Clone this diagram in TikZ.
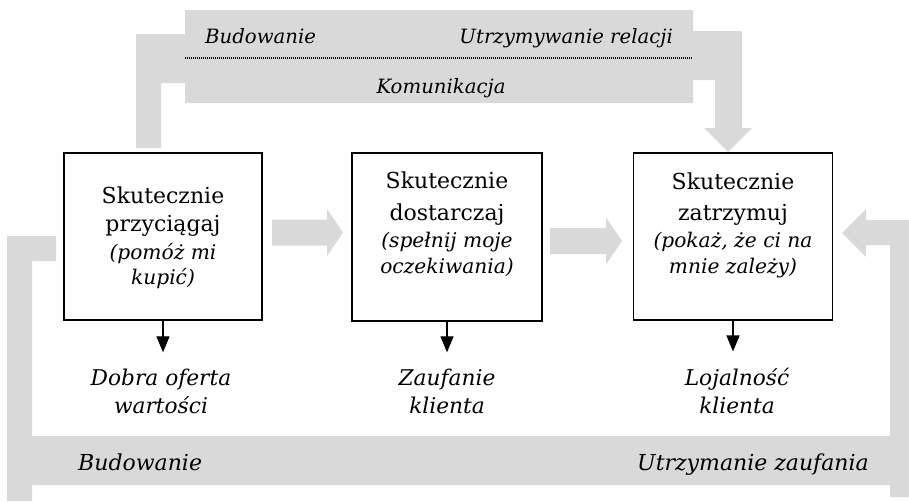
\documentclass[tikz,border=0pt]{standalone}
\usepackage{fontspec}
\setmainfont{DejaVu Serif}
\usetikzlibrary{arrows.meta}
\definecolor{bandgray}{HTML}{D9D9D9}
\tikzset{
  band/.style={fill=bandgray, draw=none},
  stagebox/.style={draw=black, line width=1.4pt, inner sep=0pt},
  boxreg/.style={inner sep=0pt, anchor=base, font=\fontsize{22}{26}\selectfont},
  boxit/.style={inner sep=0pt, anchor=base, font=\fontsize{20.2}{24}\selectfont\itshape},
  outit/.style={inner sep=0pt, anchor=base, font=\fontsize{21.7}{26}\selectfont\itshape},
  toplbl/.style={inner sep=0pt, font=\fontsize{19.7}{24}\selectfont\itshape},
  botlbl/.style={inner sep=0pt, font=\fontsize{22}{26}\selectfont\itshape},
  outarrow/.style={line width=1.3pt, -{Triangle[width=13pt,length=16pt]}, shorten >=16pt},
}
\newcommand{\grayarrowright}[4]{%
  \fill[band] (#1,#4-13) -- (#2,#4-13) -- (#2,#4-23.5) -- (#3,#4) -- (#2,#4+23.5) -- (#2,#4+13) -- (#1,#4+13) -- cycle;}
\begin{document}
\begin{tikzpicture}[x=1pt,y=-1pt]
\useasboundingbox (0,0) rectangle (909,501);
\clip (0,0) rectangle (909,501);
% top band with bent ends
\fill[band] (136,34) -- (185,34) -- (185,10) -- (693,10) -- (693,31) -- (742,31) -- (742,128)
  -- (752,128) -- (728,152) -- (704,128) -- (715,128) -- (715,80) -- (693,80) -- (693,103)
  -- (185,103) -- (185,83) -- (161,83) -- (161,148) -- (136,148) -- cycle;
\draw[line width=1.2pt, dash pattern=on 1pt off 1pt] (185,58) -- (693,58);
\node[toplbl, anchor=base west] (tb) at (205,43) {Budowanie};
\node[toplbl, anchor=base east] (tu) at (673,43) {Utrzymywanie relacji};
\node[toplbl, anchor=base] (tk) at (441,93) {Komunikacja};
% bottom loop
\fill[band] (7,236) -- (56,236) -- (56,261) -- (32,261) -- (32,436) -- (890,436) -- (890,245)
  -- (866,245) -- (866,257) -- (842,233) -- (866,209) -- (866,220) -- (915,220) -- (915,497)
  -- (890,497) -- (890,485) -- (32,485) -- (32,501) -- (7,501) -- cycle;
\node[botlbl, anchor=base west] (bb) at (78,470) {Budowanie};
\node[botlbl, anchor=base east] (bu) at (869,470) {Utrzymanie zaufania};
% gray arrows between boxes
\grayarrowright{272}{327}{343}{232.5}
\grayarrowright{550}{606}{622}{241}
% boxes
\node[stagebox, minimum width=198pt, minimum height=167pt] (b1) at (163,236.5) {};
\node[stagebox, minimum width=190pt, minimum height=168pt] (b2) at (447,237) {};
\node[stagebox, minimum width=199pt, minimum height=167pt] (b3) at (733,236.5) {};
% box texts
\node[boxreg] (b1l1) at (163,203) {Skutecznie};
\node[boxreg] (b1l2) at (163,231) {przyciągaj};
\node[boxit]  (b1l3) at (163,259) {(pomóż mi};
\node[boxit]  (b1l4) at (163,284) {kupić)};
\node[boxreg] (b2l1) at (447,188) {Skutecznie};
\node[boxreg] (b2l2) at (447,220) {dostarczaj};
\node[boxit]  (b2l3) at (447,247) {(spełnij moje};
\node[boxit]  (b2l4) at (447,273) {oczekiwania)};
\node[boxreg] (b3l1) at (733,189) {Skutecznie};
\node[boxreg] (b3l2) at (733,220) {zatrzymuj};
\node[boxit]  (b3l3) at (733,247) {(pokaż, że ci na};
\node[boxit]  (b3l4) at (733,273) {mnie zależy)};
% outcomes
\node[outit] (o1a) at (161,385) {Dobra oferta};
\node[outit] (o1b) at (161,413) {wartości};
\node[outit] (o2a) at (447,385) {Zaufanie};
\node[outit] (o2b) at (447,413) {klienta};
\node[outit] (o3a) at (737,385) {Lojalność};
\node[outit] (o3b) at (737,413) {klienta};
% black arrows
\draw[outarrow] (b1.south) -- (b1.south |- o1a.north);
\draw[outarrow] (b2.south) -- (b2.south |- o2a.north);
\draw[outarrow] (b3.south) -- (b3.south |- o3a.north);
\end{tikzpicture}
\end{document}
